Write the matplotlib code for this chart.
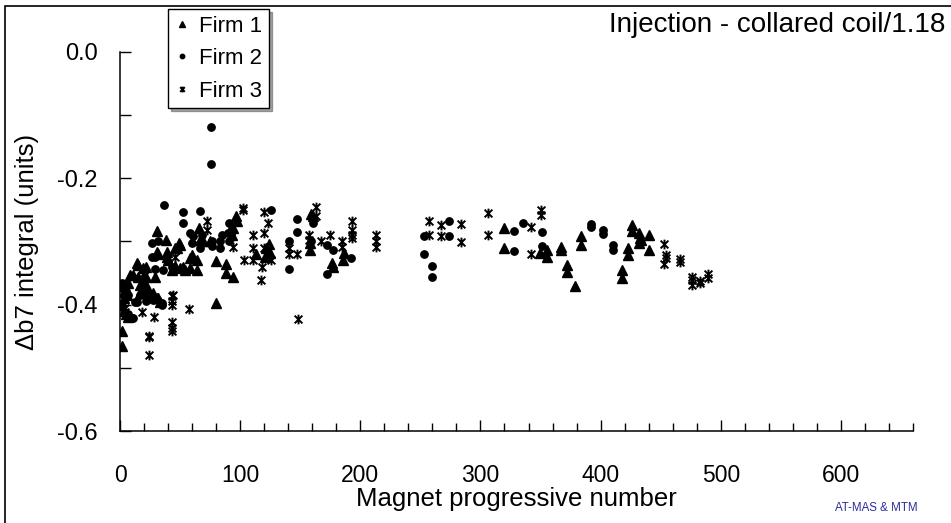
import matplotlib
matplotlib.use("Agg")
import matplotlib.pyplot as plt
from matplotlib.path import Path
from matplotlib.patches import Rectangle
from matplotlib.ticker import MultipleLocator, FixedLocator

plt.rcParams['font.family'] = ['Liberation Sans', 'DejaVu Sans']

# Firm 1 (triangles)
firm1_x = [1.4, 1.4, 3, 5, 7, 3, 3, 4, 6, 2,
           2.8, 7, 16.7, 19.4, 22, 20.8, 23.6, 25, 16.7, 27.8, 32, 33, 30.5,
           8.3, 11, 15, 19.4, 22, 29, 13.9, 15.3, 19.4, 22,
           30.5, 32, 38.9, 38.9, 40, 31, 38, 49, 50, 47.8, 45.8,
           43, 45.8, 50, 54, 58.3, 63.9, 52.8, 58.3, 59.7, 63.9,
           66, 66.7, 69.4, 75, 80, 88, 88, 94.4, 96.7, 97, 94.4, 91.7, 93,
           113, 121.4, 125, 124.4, 121, 79.7, 159, 161, 158.3, 157.8,
           176.4, 177, 186.7, 186,
           319.4, 319.4, 349.5, 355, 355, 367, 367, 371.7, 371.7, 378.6,
           384, 384, 417.5, 417.5, 423, 423, 426.4, 426.4, 432, 433, 432,
           434, 440, 440]
firm1_y = [-0.441, -0.465, -0.41, -0.415, -0.42, -0.38, -0.39, -0.37, -0.385, -0.40,
           -0.369, -0.365, -0.369, -0.371, -0.369, -0.377, -0.379, -0.384, -0.382, -0.382, -0.39, -0.395, -0.39,
           -0.353, -0.353, -0.356, -0.356, -0.356, -0.356, -0.334, -0.337, -0.342, -0.34,
           -0.316, -0.32, -0.316, -0.325, -0.329, -0.284, -0.297, -0.302, -0.305, -0.311, -0.311,
           -0.345, -0.339, -0.342, -0.345, -0.342, -0.345, -0.34, -0.326, -0.321, -0.329,
           -0.279, -0.297, -0.299, -0.30, -0.331, -0.335, -0.35, -0.356, -0.259, -0.268, -0.279, -0.282, -0.29,
           -0.32, -0.311, -0.319, -0.304, -0.324, -0.397, -0.256, -0.259, -0.313, -0.303,
           -0.334, -0.34, -0.319, -0.329,
           -0.278, -0.31, -0.318, -0.313, -0.325, -0.308, -0.313, -0.337, -0.349, -0.371,
           -0.292, -0.305, -0.345, -0.357, -0.31, -0.321, -0.274, -0.284, -0.286, -0.294, -0.302,
           -0.298, -0.29, -0.313]

# Firm 2 (circles)
firm2_x = [1.4, 7, 4, 12.5, 16.7, 25, 34.7, 9.7, 7, 10.5, 13.9, 22, 27.8, 34.7,
           27, 31.6, 27, 29, 29, 36, 43, 36.7, 52.5, 52.5, 66.7,
           58.3, 61, 59.7, 68, 66.7, 76.4, 76.4, 83.3, 83.3, 84.7, 90.3, 89.7, 90.3,
           75.6, 75.6, 126, 147, 147, 141, 141, 161, 159, 172, 177, 172.5, 192,
           252.8, 252.8, 259.7, 259.7, 274, 274, 328, 328, 335.5, 351.4, 351.4,
           391.7, 391.7, 402, 402, 410, 410]
firm2_y = [-0.366, -0.384, -0.382, -0.395, -0.384, -0.387, -0.40, -0.421, -0.414, -0.421, -0.395, -0.394, -0.392, -0.398,
           -0.303, -0.30, -0.324, -0.324, -0.343, -0.345, -0.34, -0.243, -0.253, -0.27, -0.252,
           -0.287, -0.292, -0.303, -0.29, -0.311, -0.299, -0.307, -0.30, -0.311, -0.29, -0.271, -0.287, -0.30,
           -0.118, -0.178, -0.25, -0.264, -0.285, -0.30, -0.343, -0.271, -0.30, -0.305, -0.313, -0.352, -0.326,
           -0.291, -0.32, -0.339, -0.356, -0.267, -0.291, -0.283, -0.315, -0.27, -0.285, -0.307,
           -0.272, -0.277, -0.282, -0.288, -0.305, -0.313]

# Firm 3 (asterisks)
firm3_x = [24, 24, 24, 43.6, 43.6, 43.6, 57.5, 43.6, 43.6, 43.6, 148, 28.3, 18,
           18, 18, 18, 25, 44, 4, 4, 5.5, 46, 72, 72, 94, 102, 102,
           120, 123, 111, 120, 103, 110.5, 117.8, 117, 111, 120, 126,
           141, 141, 147.5, 163, 163, 157.5, 157.5, 167, 175, 185, 185,
           193.5, 193.5, 193.5, 193.5, 213, 213, 213,
           257.5, 257.5, 267.5, 267.5, 284, 284, 306, 306, 341.7, 341.7, 350.5, 350.5,
           452.8, 454.7, 454.7, 452.8, 466, 466, 476, 476, 476, 483, 483, 489, 489]
firm3_y = [-0.449, -0.451, -0.48, -0.428, -0.437, -0.441, -0.407, -0.386, -0.394, -0.40, -0.423, -0.42, -0.412,
           -0.369, -0.374, -0.379, -0.39, -0.384, -0.406, -0.411, -0.416, -0.324, -0.267, -0.282, -0.308, -0.247, -0.25,
           -0.254, -0.271, -0.29, -0.287, -0.329, -0.329, -0.34, -0.361, -0.31, -0.31, -0.329,
           -0.311, -0.32, -0.32, -0.245, -0.26, -0.29, -0.297, -0.30, -0.29, -0.30, -0.308,
           -0.267, -0.282, -0.29, -0.294, -0.29, -0.30, -0.308,
           -0.267, -0.289, -0.274, -0.292, -0.272, -0.301, -0.255, -0.29, -0.277, -0.32, -0.25, -0.258,
           -0.304, -0.321, -0.326, -0.336, -0.328, -0.333, -0.356, -0.361, -0.369, -0.362, -0.366, -0.352, -0.358]

# x + vertical line, like the spreadsheet asterisk marker
star = Path([(0, -1), (0, 1), (-0.8, -0.8), (0.8, 0.8), (-0.8, 0.8), (0.8, -0.8)],
            [Path.MOVETO, Path.LINETO] * 3)

fig = plt.figure(figsize=(9.51, 5.23), dpi=100)
ax = fig.add_axes([0.1262, 0.1759, 0.8338, 0.7247])

ax.plot(firm1_x, firm1_y, linestyle='none', marker='^', ms=6.5, color='black', label='Firm 1')
ax.plot(firm2_x, firm2_y, linestyle='none', marker='o', ms=5.3, color='black', label='Firm 2')
ax.plot(firm3_x, firm3_y, linestyle='none', marker=star, ms=7, mfc='none', mec='black', mew=1.4,
        label='Firm 3')

ax.set_xlim(0, 660)
ax.set_ylim(-0.6, 0.0)
ax.xaxis.set_major_locator(FixedLocator([0, 100, 200, 300, 400, 500, 600]))
ax.xaxis.set_minor_locator(MultipleLocator(20))
ax.yaxis.set_major_locator(MultipleLocator(0.2))
ax.yaxis.set_minor_locator(MultipleLocator(0.1))
ax.yaxis.set_major_formatter(plt.FuncFormatter(lambda v, p: f"{v:.1f}" if abs(v) > 1e-9 else "0.0"))

ax.tick_params(axis='x', which='major', direction='in', length=8, width=1, labelsize=16.5, pad=24)
ax.tick_params(axis='x', which='minor', direction='in', length=6, width=1)
ax.tick_params(axis='y', which='major', direction='in', length=8, width=1, labelsize=17, pad=16)
ax.tick_params(axis='y', which='minor', direction='in', length=8, width=1)

for s in ['top', 'right']:
    ax.spines[s].set_visible(False)
for s in ['left', 'bottom']:
    ax.spines[s].set_linewidth(1.1)

ax.set_xlabel("Magnet progressive number", fontsize=18.5)
ax.xaxis.set_label_coords(0.5, -0.148)
ax.set_ylabel("Δb7 integral (units)", fontsize=18.5, va='center')
ax.yaxis.set_label_coords(-0.117, 0.5)

leg = ax.legend(loc='upper left', bbox_to_anchor=(0.1767, 0.983), bbox_transform=fig.transFigure,
                fontsize=16, frameon=True, fancybox=False, shadow=True, markerscale=0.6,
                handlelength=0.7, handletextpad=0.4, borderpad=0.3, labelspacing=0.52,
                borderaxespad=0)
leg.get_frame().set_edgecolor('black')
leg.get_frame().set_linewidth(1.0)

fig.text(0.9937, 0.952, "Injection - collared coil/1.18", ha='right', va='center', fontsize=20)
fig.text(0.9653, 0.0287, "AT-MAS & MTM", ha='right', va='center', fontsize=8.3, color='#2b2b9b')

fig.add_artist(Rectangle((5 / 951, -0.1), 1.2, 1.1 - 6 / 523, transform=fig.transFigure,
                         fill=False, edgecolor='black', linewidth=1.2))

fig.savefig("out.png", dpi=100)
